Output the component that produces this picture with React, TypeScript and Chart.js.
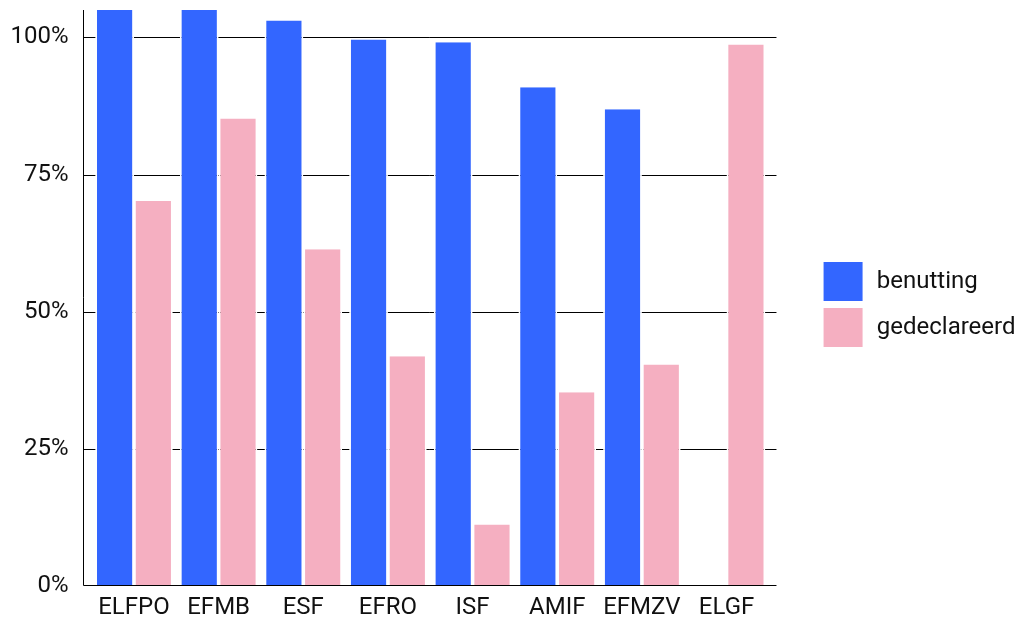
import React, { useEffect, useRef } from "react";
import { Chart, registerables } from "chart.js";

Chart.register(...registerables);

const categories = ["ELFPO", "EFMB", "ESF", "EFRO", "ISF", "AMIF", "EFMZV", "ELGF"];
const benutting = [112, 110, 103.1, 99.6, 99.1, 90.9, 86.9, null];
const gedeclareerd = [70.2, 85.2, 61.4, 41.9, 11.2, 35.3, 40.4, 98.7];
const yTicks = [0, 25, 50, 75, 100];
const seriesNames = ["benutting", "gedeclareerd"];

const FONT = "Roboto";
const TEXT = "#111111";

const axesPlugin = {
  id: "customAxes",
  beforeDatasetsDraw(chart: any) {
    const { ctx, chartArea, scales } = chart;
    const x0 = chartArea.left - 8.4;
    const x1 = chartArea.right + 7.6;
    ctx.save();
    ctx.strokeStyle = "#000";
    ctx.lineWidth = 1;
    yTicks.forEach((v) => {
      if (v === 0) return;
      const y = Math.round(scales.y.getPixelForValue(v)) + 0.5;
      ctx.beginPath();
      ctx.moveTo(x0, y);
      ctx.lineTo(x1, y);
      ctx.stroke();
    });
    ctx.restore();
  },
  afterDatasetsDraw(chart: any) {
    const { ctx, chartArea, scales } = chart;
    const x0 = Math.round(chartArea.left - 8.4) + 0.5;
    const x1 = chartArea.right + 7.6;
    const yb = Math.round(scales.y.getPixelForValue(0)) - 0.5;
    ctx.save();
    ctx.strokeStyle = "#000";
    ctx.lineWidth = 1;
    ctx.beginPath();
    ctx.moveTo(x0, chartArea.top);
    ctx.lineTo(x0, yb);
    ctx.lineTo(x1, yb);
    ctx.stroke();
    ctx.restore();
  },
};

export default function App() {
  const ref = useRef<HTMLCanvasElement | null>(null);

  useEffect(() => {
    document.body.style.margin = "0";
    const canvas = ref.current;
    if (!canvas) return;
    const barBorder = { left: 1.8, right: 1.8, top: 0, bottom: 0 };
    const chart = new Chart(canvas, {
      type: "bar",
      data: {
        labels: categories,
        datasets: [
          {
            label: seriesNames[0],
            data: benutting,
            backgroundColor: "#3366ff",
            borderColor: "#ffffff",
            borderWidth: barBorder,
            categoryPercentage: 0.916,
            barPercentage: 1,
          },
          {
            label: seriesNames[1],
            data: gedeclareerd,
            backgroundColor: "#f5afc1",
            borderColor: "#ffffff",
            borderWidth: barBorder,
            categoryPercentage: 0.916,
            barPercentage: 1,
          },
        ],
      },
      options: {
        animation: false,
        responsive: false,
        devicePixelRatio: 1,
        layout: { padding: { left: 0, right: -6.5, top: -11, bottom: 0 } },
        plugins: {
          legend: {
            position: "right",
            align: "center",
            maxWidth: 400,
            labels: {
              boxWidth: 43.4,
              boxHeight: 43.4,
              padding: 2.6,
              color: TEXT,
              font: { family: FONT, size: 24 },
              generateLabels(c: any) {
                const items = Chart.defaults.plugins.legend.labels.generateLabels(c);
                return items.map((it: any) => ({ ...it, lineWidth: 4.4, strokeStyle: "#ffffff" }));
              },
            },
          },
          tooltip: { enabled: false },
        },
        scales: {
          x: {
            offset: true,
            grid: { display: false, drawTicks: false },
            border: { display: false },
            ticks: { color: TEXT, font: { family: FONT, size: 24 }, padding: 7.5, maxRotation: 0, autoSkip: false },
            afterFit(s: any) {
              s.height = 34;
              s.paddingLeft = 0;
              s.paddingRight = 0;
            },
          },
          y: {
            min: 0,
            max: 105,
            grid: { display: false, drawTicks: false },
            border: { display: false },
            ticks: {
              color: TEXT,
              font: { family: FONT, size: 24 },
              padding: 23,
              callback: (v: any) => v + "%",
            },
            afterBuildTicks(s: any) {
              s.ticks = yTicks.map((v) => ({ value: v }));
            },
            afterFit(s: any) {
              s.width = 91.65;
              s.paddingTop = 10;
              s.paddingBottom = 0;
            },
          },
          spacer: {
            type: "linear",
            position: "right",
            display: true,
            grid: { display: false, drawTicks: false },
            border: { display: false },
            ticks: { display: false },
            afterFit(s: any) {
              s.width = 49.9;
              s.paddingTop = 0;
              s.paddingBottom = 0;
            },
          },
        },
      },
      plugins: [axesPlugin],
    } as any);
    return () => chart.destroy();
  }, []);

  return (
    <div style={{ width: 1019, height: 620 }}>
      <canvas ref={ref} width={1019} height={620} style={{ display: "block" }} />
    </div>
  );
}
